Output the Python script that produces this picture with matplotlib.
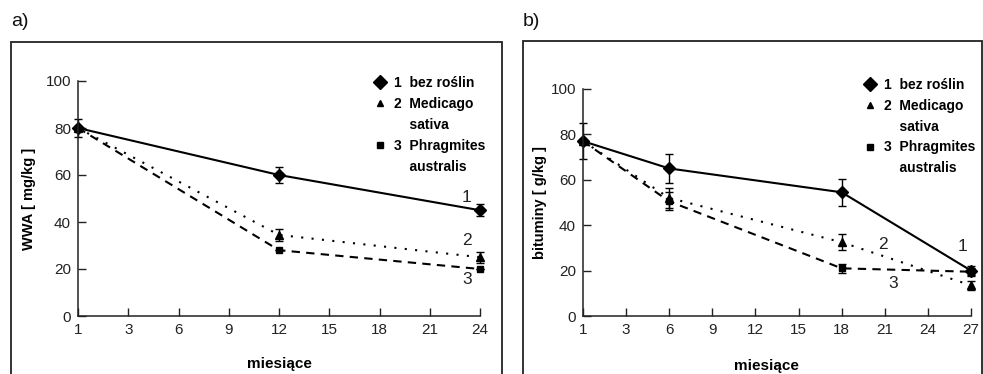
import numpy as np
import matplotlib
matplotlib.use('Agg')
import matplotlib.pyplot as plt
from matplotlib.patches import Rectangle
from matplotlib.lines import Line2D

plt.rcParams['font.family'] = ['Liberation Sans', 'DejaVu Sans']

# panel a) WWA [mg/kg]
ticks_a = ['1', '3', '6', '9', '12', '15', '18', '21', '24']
months_a = ['1', '12', '24']
a_s1 = [80, 60, 45]
a_s1_err = [3.7, 3.5, 2.5]
a_s2 = [80, 34.5, 25]
a_s2_err = [0, 2.5, 2.3]
a_s3 = [80, 28, 20]
a_s3_err = [0, 0, 0]

# panel b) bituminy [g/kg]
ticks_b = ['1', '3', '6', '9', '12', '15', '18', '21', '24', '27']
months_b = ['1', '6', '18', '27']
b_s1 = [77, 65, 54.5, 20]
b_s1_err = [8, 6.3, 6, 2.2]
b_s2 = [77, 52, 32.5, 13.5]
b_s2_err = [0, 4.5, 3.5, 2]
b_s3 = [77, 50.5, 21, 19.5]
b_s3_err = [0, 4, 2, 1.5]

legend_labels = ['1  bez roślin', '2  Medicago', '    sativa', '3  Phragmites', '    australis']

fig = plt.figure(figsize=(9.83, 3.74), dpi=100)

# outer frames
W, H = 983, 374
fig.add_artist(Rectangle((11 / W, -0.05), (502 - 11) / W, (374 - 42) / H + 0.05,
                         transform=fig.transFigure, fill=False, lw=1.3, ec='#222'))
fig.add_artist(Rectangle((523 / W, -0.05), (982 - 523) / W, (374 - 41) / H + 0.05,
                         transform=fig.transFigure, fill=False, lw=1.3, ec='#222'))
fig.text(11 / W, 1 - 22 / H, 'a)', fontsize=14, va='center', ha='left', color='#111')
fig.text(523 / W, 1 - 22 / H, 'b)', fontsize=14, va='center', ha='left', color='#111')

ax1 = fig.add_axes([78 / W, 58 / H, 402 / W, 235 / H])
ax2 = fig.add_axes([583 / W, 58 / H, 388 / W, 227 / H])


def draw(ax, ticks, months, series, errs):
    x = [ticks.index(m) for m in months]
    styles = [('-', 'D', 6.5), ((0, (1, 4)), '^', 6), ((0, (4, 3)), 's', 5)]
    for (ls, mk, ms), y, e in zip(styles, series, errs):
        ax.errorbar(x, y, yerr=e, color='black', ls=ls, lw=1.5, marker=mk, ms=ms,
                    capsize=3, elinewidth=1, capthick=1)
    ax.set_xlim(0, len(ticks) - 1)
    ax.set_ylim(0, 100)
    ax.set_xticks(range(len(ticks)))
    ax.set_xticklabels(ticks)
    ax.set_yticks([0, 20, 40, 60, 80, 100])
    ax.spines['top'].set_visible(False)
    ax.spines['right'].set_visible(False)
    for s in ['left', 'bottom']:
        ax.spines[s].set_linewidth(1.1)
        ax.spines[s].set_color('#222')
    ax.tick_params(direction='in', length=6, width=1, pad=5, labelsize=11, colors='#222')
    for c in ax.get_children():
        c.set_clip_on(False)


draw(ax1, ticks_a, months_a, [a_s1, a_s2, a_s3], [a_s1_err, a_s2_err, a_s3_err])
draw(ax2, ticks_b, months_b, [b_s1, b_s2, b_s3], [b_s1_err, b_s2_err, b_s3_err])

ax1.set_ylabel('WWA [ mg/kg ]', fontsize=10.5, fontweight='bold')
ax1.yaxis.set_label_coords(-0.105, 0.5)
ax1.set_xlabel('miesiące', fontsize=11, fontweight='bold')
ax1.xaxis.set_label_coords(0.5, -0.175)
ax2.set_ylabel('bituminy [ g/kg ]', fontsize=10.5, fontweight='bold')
ax2.yaxis.set_label_coords(-0.093, 0.5)
ax2.set_xlabel('miesiące', fontsize=11, fontweight='bold')
ax2.xaxis.set_label_coords(0.474, -0.19)

# line numbers
for ax, pos in [(ax1, [('1', 7.74, 50.6), ('2', 7.74, 32), ('3', 7.74, 15.7)]),
                (ax2, [('1', 8.81, 30.4), ('2', 6.96, 31.3), ('3', 7.19, 14.5)])]:
    for t, xx, yy in pos:
        ax.text(xx, yy, t, fontsize=12.5, ha='center', va='center', color='#222')

blank = Line2D([], [], ls='none', marker='')
handles = [Line2D([], [], ls='none', marker='D', ms=7, color='black'),
           Line2D([], [], ls='none', marker='^', ms=5, color='black'), blank,
           Line2D([], [], ls='none', marker='s', ms=5, color='black'), blank]
for ax, anchor in [(ax1, (0.735, 1.022)), (ax2, (0.722, 1.05))]:
    ax.legend(handles, legend_labels, loc='upper left', bbox_to_anchor=anchor,
              frameon=False, borderpad=0, borderaxespad=0, handlelength=1,
              handletextpad=0.5, labelspacing=0.5,
              prop={'weight': 'bold', 'size': 10})

fig.savefig('out.png', dpi=100)
